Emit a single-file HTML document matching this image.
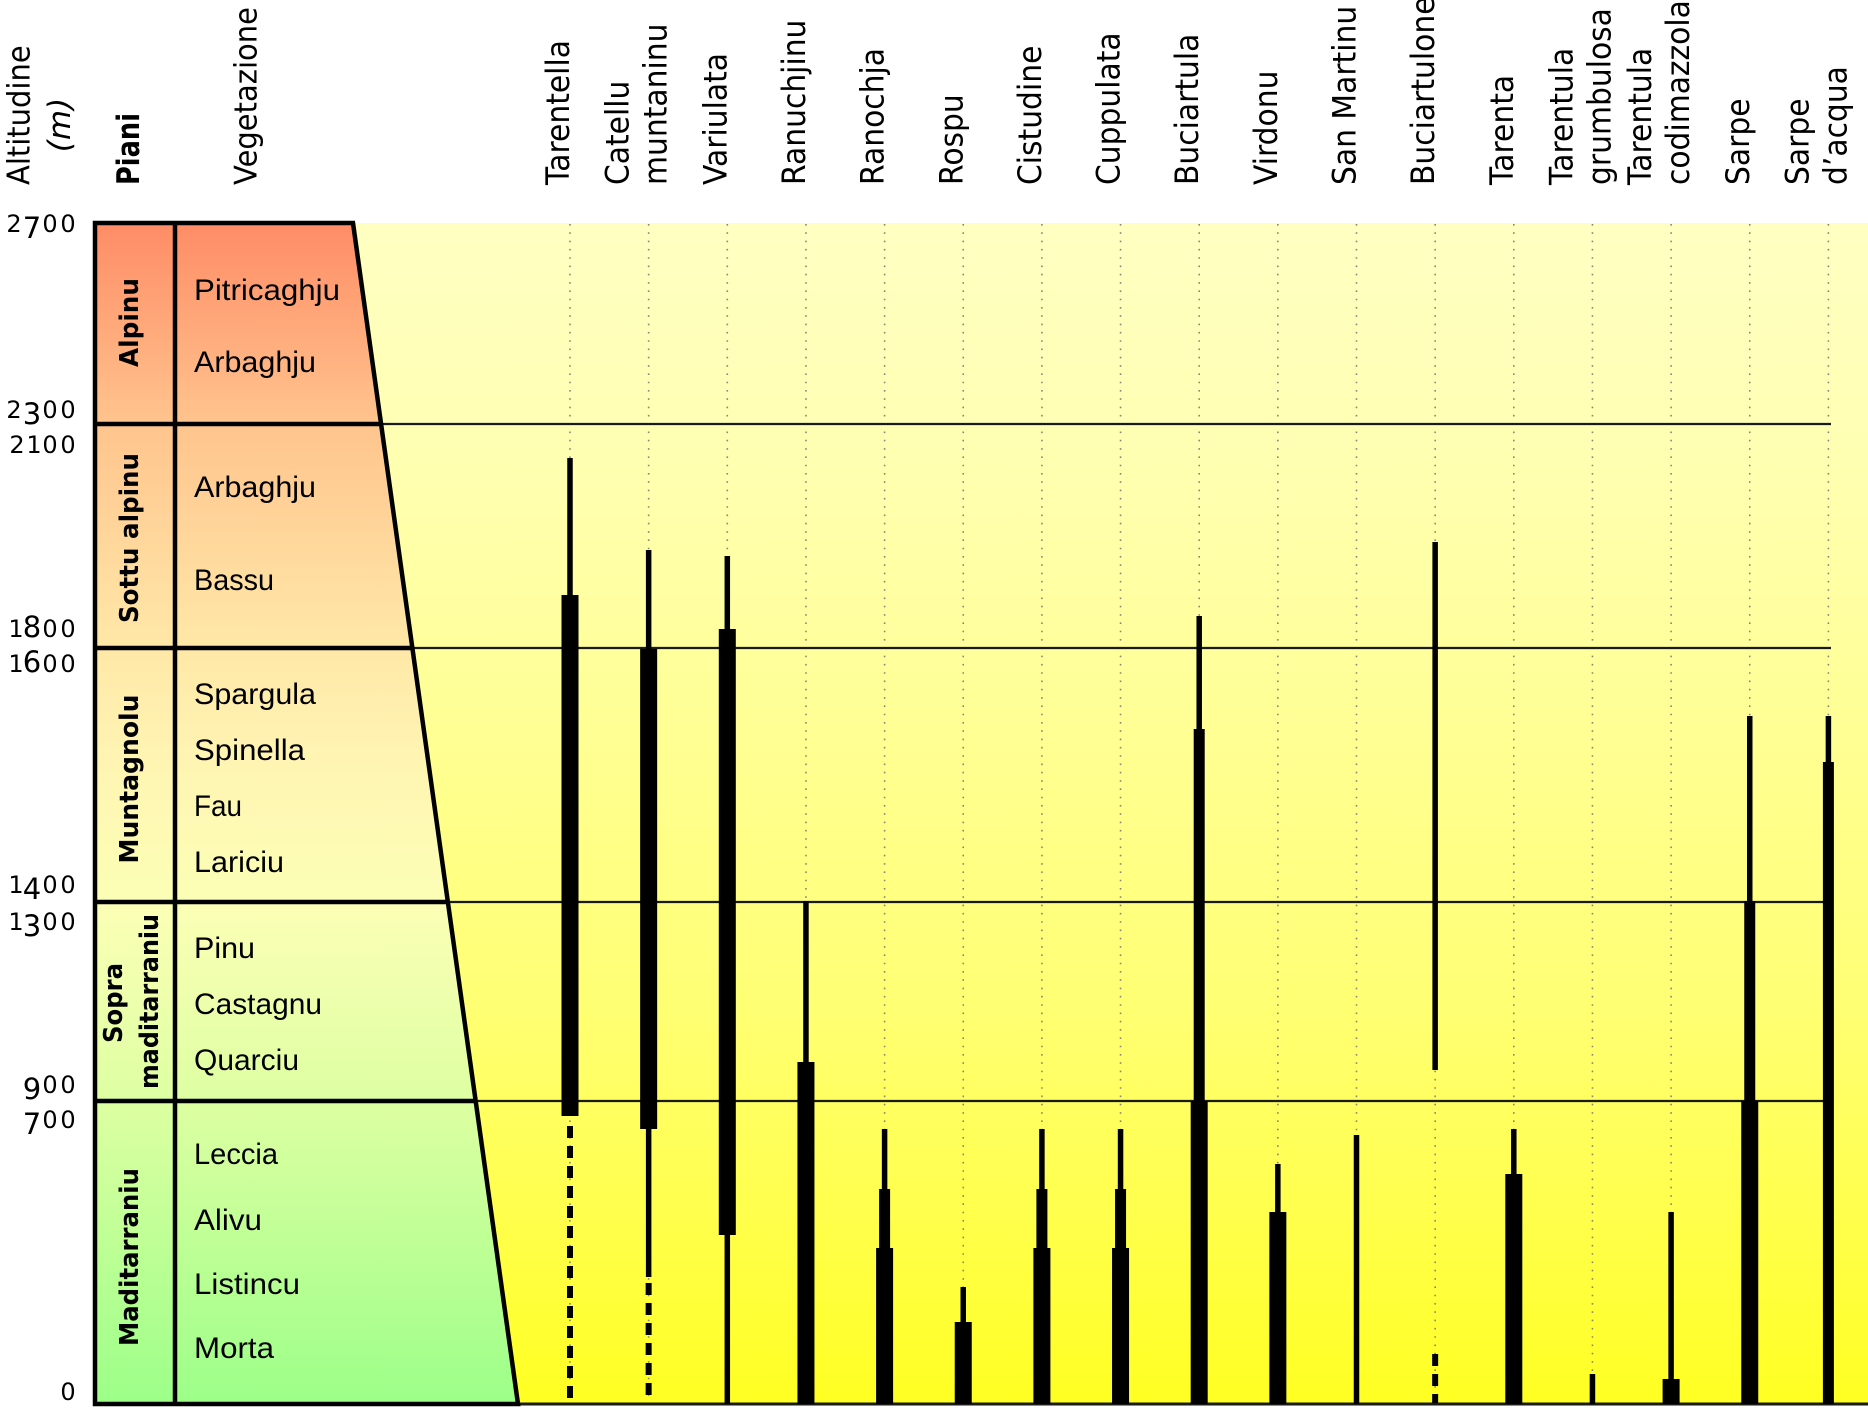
<!DOCTYPE html>
<html>
<head>
<meta charset="utf-8">
<style>
html,body{margin:0;padding:0;background:#fff;}
svg{display:block;}
.hd{font-family:"DejaVu Sans","Liberation Sans",sans-serif;font-size:31px;fill:#000;}
.sp{font-family:"DejaVu Sans","Liberation Sans",sans-serif;font-size:32px;fill:#000;}
.bd{font-family:"DejaVu Sans","Liberation Sans",sans-serif;font-weight:bold;fill:#000;}
.tb{font-family:"Liberation Sans","DejaVu Sans",sans-serif;font-size:30px;fill:#000;}
.nm{font-family:"DejaVu Sans","Liberation Sans",sans-serif;fill:#000;}
</style>
</head>
<body>
<svg width="1868" height="1409" viewBox="0 0 1868 1409" xmlns="http://www.w3.org/2000/svg">
<defs>
<linearGradient id="yel" gradientUnits="userSpaceOnUse" x1="0" y1="223" x2="0" y2="1404">
<stop offset="0" stop-color="#FFFFC2"/>
<stop offset="0.18" stop-color="#FFFFB4"/>
<stop offset="0.4" stop-color="#FFFF98"/>
<stop offset="0.66" stop-color="#FFFF74"/>
<stop offset="0.85" stop-color="#FFFF4A"/>
<stop offset="1" stop-color="#FFFF22"/>
</linearGradient>
<linearGradient id="tab" gradientUnits="userSpaceOnUse" x1="0" y1="223" x2="0" y2="1404">
<stop offset="0" stop-color="#FF8C66"/>
<stop offset="0.17" stop-color="#FFC48E"/>
<stop offset="0.36" stop-color="#FFE8A8"/>
<stop offset="0.45" stop-color="#FFF4B2"/>
<stop offset="0.575" stop-color="#FCFFB6"/>
<stop offset="0.744" stop-color="#DDFFA2"/>
<stop offset="1" stop-color="#9CFF88"/>
</linearGradient>
</defs>

<rect x="0" y="0" width="1868" height="1409" fill="#fff"/>

<polygon points="353,223 1868,223 1868,1404 518,1404" fill="url(#yel)"/>
<polygon points="95,223 353,223 518,1404 95,1404" fill="url(#tab)"/>

<g stroke="#858575" stroke-width="1.6" stroke-dasharray="1.6 6.7">
<line x1="570" y1="224" x2="570" y2="1404"/>
<line x1="648.65" y1="224" x2="648.65" y2="1404"/>
<line x1="727.3" y1="224" x2="727.3" y2="1404"/>
<line x1="805.95" y1="224" x2="805.95" y2="1404"/>
<line x1="884.6" y1="224" x2="884.6" y2="1404"/>
<line x1="963.25" y1="224" x2="963.25" y2="1404"/>
<line x1="1041.9" y1="224" x2="1041.9" y2="1404"/>
<line x1="1120.55" y1="224" x2="1120.55" y2="1404"/>
<line x1="1199.2" y1="224" x2="1199.2" y2="1404"/>
<line x1="1277.85" y1="224" x2="1277.85" y2="1404"/>
<line x1="1356.5" y1="224" x2="1356.5" y2="1404"/>
<line x1="1435.15" y1="224" x2="1435.15" y2="1404"/>
<line x1="1513.8" y1="224" x2="1513.8" y2="1404"/>
<line x1="1592.45" y1="224" x2="1592.45" y2="1404"/>
<line x1="1671.1" y1="224" x2="1671.1" y2="1404"/>
<line x1="1749.75" y1="224" x2="1749.75" y2="1404"/>
<line x1="1828.4" y1="224" x2="1828.4" y2="1404"/>
</g>

<g stroke="#1a1a1a" stroke-width="2.2">
<line x1="381" y1="424" x2="1831" y2="424"/>
<line x1="412" y1="648" x2="1831" y2="648"/>
<line x1="448" y1="902" x2="1831" y2="902"/>
<line x1="476" y1="1101" x2="1831" y2="1101"/>
<line x1="518" y1="1404" x2="1868" y2="1404" stroke-width="3"/>
</g>

<g fill="#000">
<rect x="567.25" y="458" width="5.5" height="137"/>
<rect x="561.5" y="595" width="17" height="521"/>
<rect x="645.9" y="550" width="5.5" height="99"/>
<rect x="640.15" y="649" width="17" height="480"/>
<rect x="645.9" y="1129" width="5.5" height="148"/>
<rect x="724.55" y="556" width="5.5" height="73"/>
<rect x="718.8" y="629" width="17" height="606"/>
<rect x="724.55" y="1235" width="5.5" height="169"/>
<rect x="803.2" y="901" width="5.5" height="161"/>
<rect x="797.45" y="1062" width="17" height="342"/>
<rect x="881.85" y="1129" width="5.5" height="60"/>
<rect x="879.1" y="1189" width="11" height="59"/>
<rect x="876.1" y="1248" width="17" height="156"/>
<rect x="960.5" y="1287" width="5.5" height="35"/>
<rect x="954.75" y="1322" width="17" height="82"/>
<rect x="1039.15" y="1129" width="5.5" height="60"/>
<rect x="1036.4" y="1189" width="11" height="59"/>
<rect x="1033.4" y="1248" width="17" height="156"/>
<rect x="1117.8" y="1129" width="5.5" height="60"/>
<rect x="1115.05" y="1189" width="11" height="59"/>
<rect x="1112.05" y="1248" width="17" height="156"/>
<rect x="1196.45" y="616" width="5.5" height="113"/>
<rect x="1193.7" y="729" width="11" height="372"/>
<rect x="1190.7" y="1101" width="17" height="303"/>
<rect x="1275.1" y="1164" width="5.5" height="48"/>
<rect x="1269.35" y="1212" width="17" height="192"/>
<rect x="1353.75" y="1135" width="5.5" height="269"/>
<rect x="1432.4" y="542" width="5.5" height="528"/>
<rect x="1511.05" y="1129" width="5.5" height="45"/>
<rect x="1505.3" y="1174" width="17" height="230"/>
<rect x="1589.7" y="1374" width="5.5" height="30"/>
<rect x="1668.35" y="1212" width="5.5" height="167"/>
<rect x="1662.6" y="1379" width="17" height="25"/>
<rect x="1747" y="716" width="5.5" height="185"/>
<rect x="1744.25" y="901" width="11" height="200"/>
<rect x="1741.25" y="1101" width="17" height="303"/>
<rect x="1825.65" y="716" width="5.5" height="46"/>
<rect x="1822.9" y="762" width="11" height="642"/>
</g>
<g stroke="#000" stroke-width="6" stroke-dasharray="12 8">
<line x1="570" y1="1126" x2="570" y2="1403"/>
<line x1="648.65" y1="1283" x2="648.65" y2="1403"/>
<line x1="1435.15" y1="1354" x2="1435.15" y2="1403"/>
</g>

<g stroke="#000" stroke-width="4.5" fill="none">
<polygon points="95,223 353,223 518,1404 95,1404" stroke-linejoin="miter"/>
<line x1="175" y1="223" x2="175" y2="1404"/>
<line x1="95" y1="424" x2="381" y2="424"/>
<line x1="95" y1="648" x2="412" y2="648"/>
<line x1="95" y1="902" x2="448" y2="902"/>
<line x1="95" y1="1101" x2="476" y2="1101"/>
</g>

<text class="hd" transform="translate(29.5,185) rotate(-90) scale(0.935,1)">Altitudine</text>
<text class="hd" font-style="italic" text-anchor="middle" transform="translate(70,125) rotate(-90)">(m)</text>
<text class="bd" font-size="31" textLength="72" lengthAdjust="spacingAndGlyphs" transform="translate(139,185) rotate(-90)">Piani</text>
<text class="hd" transform="translate(256.6,185) rotate(-90) scale(0.935,1)">Vegetazione</text>

<g class="sp">
<text transform="translate(569,185) rotate(-90) scale(0.93,1)">Tarentella</text>
<text transform="translate(628.65,185) rotate(-90) scale(0.93,1)">Catellu</text>
<text transform="translate(666.65,185) rotate(-90) scale(0.93,1)">muntaninu</text>
<text transform="translate(726.3,185) rotate(-90) scale(0.93,1)">Variulata</text>
<text transform="translate(804.95,185) rotate(-90) scale(0.93,1)">Ranuchjinu</text>
<text transform="translate(883.6,185) rotate(-90) scale(0.93,1)">Ranochja</text>
<text transform="translate(962.25,185) rotate(-90) scale(0.93,1)">Rospu</text>
<text transform="translate(1040.9,185) rotate(-90) scale(0.93,1)">Cistudine</text>
<text transform="translate(1119.55,185) rotate(-90) scale(0.93,1)">Cuppulata</text>
<text transform="translate(1198.2,185) rotate(-90) scale(0.93,1)">Buciartula</text>
<text transform="translate(1276.85,185) rotate(-90) scale(0.93,1)">Virdonu</text>
<text transform="translate(1355.5,185) rotate(-90) scale(0.93,1)">San Martinu</text>
<text transform="translate(1434.15,185) rotate(-90) scale(0.93,1)">Buciartulone</text>
<text transform="translate(1512.8,185) rotate(-90) scale(0.93,1)">Tarenta</text>
<text transform="translate(1572.45,185) rotate(-90) scale(0.93,1)">Tarentula</text>
<text transform="translate(1610.45,185) rotate(-90) scale(0.93,1)">grumbulosa</text>
<text transform="translate(1651.1,185) rotate(-90) scale(0.93,1)">Tarentula</text>
<text transform="translate(1689.1,185) rotate(-90) scale(0.93,1)">codimazzola</text>
<text transform="translate(1748.75,185) rotate(-90) scale(0.93,1)">Sarpe</text>
<text transform="translate(1808.4,185) rotate(-90) scale(0.93,1)">Sarpe</text>
<text transform="translate(1846.4,185) rotate(-90) scale(0.93,1)">d’acqua</text>
</g>

<g class="bd" font-size="26" text-anchor="middle">
<text textLength="89" lengthAdjust="spacingAndGlyphs" transform="translate(138,322.5) rotate(-90)">Alpinu</text>
<text textLength="170" lengthAdjust="spacingAndGlyphs" transform="translate(138,538) rotate(-90)">Sottu alpinu</text>
<text textLength="169" lengthAdjust="spacingAndGlyphs" transform="translate(138,779) rotate(-90)">Muntagnolu</text>
<text textLength="80" lengthAdjust="spacingAndGlyphs" transform="translate(122,1003) rotate(-90)">Sopra</text>
<text textLength="175" lengthAdjust="spacingAndGlyphs" transform="translate(158,1001.5) rotate(-90)">maditarraniu</text>
<text textLength="178" lengthAdjust="spacingAndGlyphs" transform="translate(138,1257) rotate(-90)">Maditarraniu</text>
</g>

<g class="tb">
<text x="194" y="300" textLength="146" lengthAdjust="spacingAndGlyphs">Pitricaghju</text>
<text x="194" y="372" textLength="122" lengthAdjust="spacingAndGlyphs">Arbaghju</text>
<text x="194" y="497" textLength="122" lengthAdjust="spacingAndGlyphs">Arbaghju</text>
<text x="194" y="590" textLength="80" lengthAdjust="spacingAndGlyphs">Bassu</text>
<text x="194" y="704" textLength="122" lengthAdjust="spacingAndGlyphs">Spargula</text>
<text x="194" y="760" textLength="111" lengthAdjust="spacingAndGlyphs">Spinella</text>
<text x="194" y="816" textLength="48" lengthAdjust="spacingAndGlyphs">Fau</text>
<text x="194" y="872" textLength="90" lengthAdjust="spacingAndGlyphs">Lariciu</text>
<text x="194" y="958" textLength="61" lengthAdjust="spacingAndGlyphs">Pinu</text>
<text x="194" y="1014" textLength="128" lengthAdjust="spacingAndGlyphs">Castagnu</text>
<text x="194" y="1070" textLength="105" lengthAdjust="spacingAndGlyphs">Quarciu</text>
<text x="194" y="1164" textLength="84" lengthAdjust="spacingAndGlyphs">Leccia</text>
<text x="194" y="1230" textLength="68" lengthAdjust="spacingAndGlyphs">Alivu</text>
<text x="194" y="1294" textLength="106" lengthAdjust="spacingAndGlyphs">Listincu</text>
<text x="194" y="1358" textLength="80" lengthAdjust="spacingAndGlyphs">Morta</text>
</g>

<g class="nm" text-anchor="middle">
<text><tspan x="14" y="232" font-size="24">2</tspan><tspan x="32" y="238" font-size="29">7</tspan><tspan x="50" y="232" font-size="24">0</tspan><tspan x="68" y="232" font-size="24">0</tspan></text>
<text><tspan x="14" y="418" font-size="24">2</tspan><tspan x="32" y="424" font-size="29">3</tspan><tspan x="50" y="418" font-size="24">0</tspan><tspan x="68" y="418" font-size="24">0</tspan></text>
<text><tspan x="17" y="453" font-size="24">2</tspan><tspan x="34" y="453" font-size="24">1</tspan><tspan x="50" y="453" font-size="24">0</tspan><tspan x="68" y="453" font-size="24">0</tspan></text>
<text><tspan x="16" y="637" font-size="24">1</tspan><tspan x="32" y="637" font-size="29">8</tspan><tspan x="50" y="637" font-size="24">0</tspan><tspan x="68" y="637" font-size="24">0</tspan></text>
<text><tspan x="16" y="672" font-size="24">1</tspan><tspan x="32" y="672" font-size="29">6</tspan><tspan x="50" y="672" font-size="24">0</tspan><tspan x="68" y="672" font-size="24">0</tspan></text>
<text><tspan x="16" y="893" font-size="24">1</tspan><tspan x="32" y="899" font-size="29">4</tspan><tspan x="50" y="893" font-size="24">0</tspan><tspan x="68" y="893" font-size="24">0</tspan></text>
<text><tspan x="16" y="930" font-size="24">1</tspan><tspan x="32" y="936" font-size="29">3</tspan><tspan x="50" y="930" font-size="24">0</tspan><tspan x="68" y="930" font-size="24">0</tspan></text>
<text><tspan x="32" y="1099" font-size="29">9</tspan><tspan x="50" y="1093" font-size="24">0</tspan><tspan x="68" y="1093" font-size="24">0</tspan></text>
<text><tspan x="32" y="1134" font-size="29">7</tspan><tspan x="50" y="1128" font-size="24">0</tspan><tspan x="68" y="1128" font-size="24">0</tspan></text>
<text><tspan x="68" y="1400" font-size="24">0</tspan></text>
</g>
</svg>
</body>
</html>
